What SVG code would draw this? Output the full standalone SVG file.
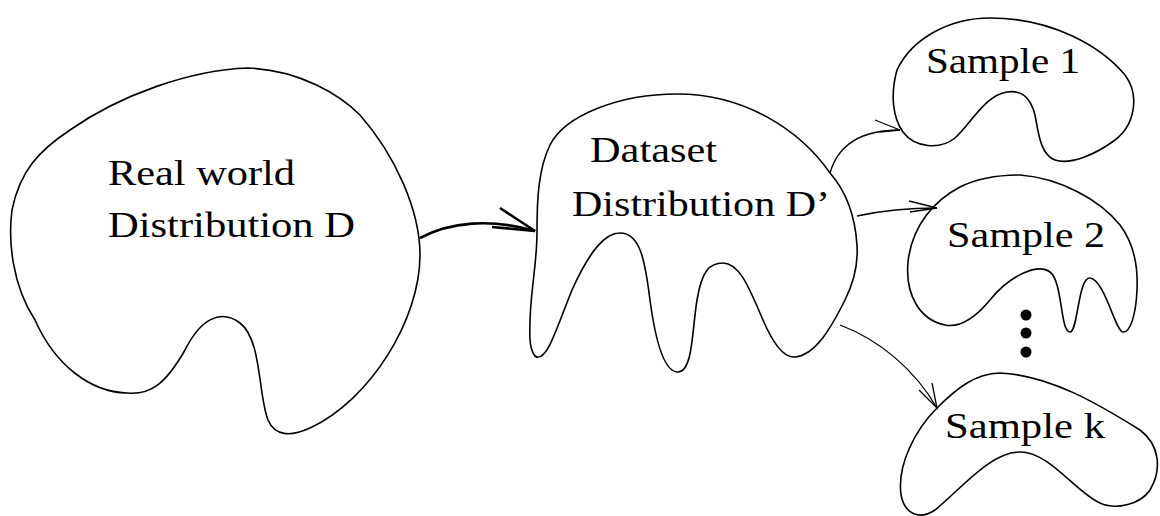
<svg xmlns="http://www.w3.org/2000/svg" width="1160" height="516" viewBox="0 0 1160 516">
<style>
.blob{fill:none;stroke:#000;stroke-width:1.6}
.conn{fill:none;stroke:#000;stroke-width:1.3}
.thick{stroke-width:2.6}
text{font-family:"Liberation Serif","Times New Roman",serif;font-size:35px;fill:#000}
</style>
<rect width="1160" height="516" fill="#fff"/>
<g id="real-world">
<path class="blob" d="M248,68 C300,70 340,95 360,115 C395,155 420,210 420,255 C420,320 370,400 310,428 C290,437 275,436 268,420 C258,395 262,340 240,323 C220,308 200,320 185,350 C165,385 150,395 127,393 C90,392 55,365 35,320 C12,285 8,240 12,210 C20,170 40,150 70,130 C120,95 190,70 248,68 Z"/>
<text x="108" y="185" textLength="187" lengthAdjust="spacingAndGlyphs">Real world</text>
<text x="108" y="237" textLength="247" lengthAdjust="spacingAndGlyphs">Distribution D</text>
</g>
<g id="dataset">
<path class="blob" d="M677,94 C620,94 565,115 550,145 C538,170 537,200 537,232 C537,270 528,300 530,340 C531,352 535,358 538,357 C548,357 556,330 572,290 C590,250 605,233 620,233 C640,233 645,260 650,300 C656,345 665,372 678,372 C693,372 692,330 697,300 C702,270 710,263 723,263 C740,263 750,290 763,320 C775,348 785,358 795,357 C815,355 830,330 845,300 C856,278 858,260 857,245 C855,215 845,190 830,173 C800,130 745,94 677,94 Z"/>
<text x="590" y="162" textLength="127" lengthAdjust="spacingAndGlyphs">Dataset</text>
<text x="572" y="216" textLength="258" lengthAdjust="spacingAndGlyphs">Distribution D’</text>
</g>
<g id="sample-1">
<path class="blob" d="M990,18 C1050,18 1100,45 1125,75 C1140,95 1135,125 1115,140 C1095,155 1070,165 1055,160 C1040,155 1038,130 1035,115 C1030,95 1020,90 1007,92 C985,95 970,125 955,138 C940,150 915,148 903,132 C893,118 890,95 897,70 C912,38 950,18 990,18 Z"/>
<text x="926" y="73" textLength="154" lengthAdjust="spacingAndGlyphs">Sample 1</text>
</g>
<g id="sample-2">
<path class="blob" d="M1020,175 C1060,178 1100,200 1120,225 C1135,245 1138,270 1137,290 C1136,315 1130,333 1123,332 C1115,331 1105,280 1090,278 C1078,277 1078,332 1070,332 C1060,332 1063,282 1050,272 C1038,263 1010,275 990,300 C975,318 960,328 945,325 C920,320 905,295 908,262 C912,225 935,200 960,187 C980,177 1000,175 1020,175 Z"/>
<text x="947" y="247" textLength="158" lengthAdjust="spacingAndGlyphs">Sample 2</text>
</g>
<g id="ellipsis">
<circle cx="1026" cy="315" r="5.5"/>
<circle cx="1026" cy="333" r="5.5"/>
<circle cx="1026" cy="352" r="5.5"/>
</g>
<g id="sample-k">
<path class="blob" d="M1000,373 C1050,375 1100,405 1140,430 C1160,445 1162,470 1150,490 C1140,505 1115,510 1100,503 C1075,492 1050,452 1020,452 C990,452 960,490 935,510 C920,520 905,515 901,495 C897,465 915,430 937,408 C955,390 975,373 1000,373 Z"/>
<text x="945" y="438" textLength="160" lengthAdjust="spacingAndGlyphs">Sample k</text>
</g>
<g id="connectors">
<path class="conn thick" d="M420,238 C450,222 490,218 535,231"/>
<path class="conn thick" d="M500,208 L535,231 L492,227"/>
<path class="conn" d="M830,173 C838,145 860,130 900,130"/>
<path class="conn" d="M875,120 L900,130 L879,132"/>
<path class="conn" d="M857,216 C880,211 905,208 937,208"/>
<path class="conn" d="M909,201 L937,208 L910,212"/>
<path class="conn" d="M840,325 C880,340 915,370 937,408"/>
<path class="conn" d="M919,390 L937,408 L932,383"/>
</g>
</svg>
